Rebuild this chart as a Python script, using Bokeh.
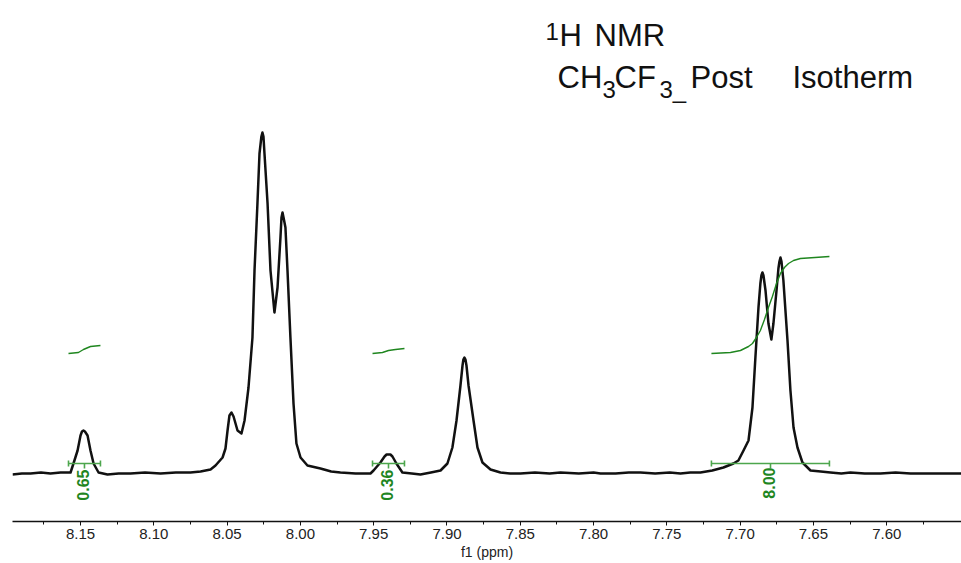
from bokeh.plotting import figure
from bokeh.models import Range1d, FixedTicker, NumeralTickFormatter
from bokeh.embed import file_html
from bokeh.resources import INLINE
from bokeh.core.properties import value

# ---------------- data ----------------
spectrum_ppm = [
    8.1964, 8.1900, 8.1841, 8.1770, 8.1705, 8.1636, 8.1568, 8.1548, 8.1520, 8.1500,
    8.1490, 8.1480, 8.1470, 8.1452, 8.1432, 8.1411, 8.1377, 8.1316, 8.1240, 8.1159,
    8.1060, 8.0954, 8.0850, 8.0750, 8.0681, 8.0613, 8.0579, 8.0531, 8.0511, 8.0497,
    8.0484, 8.0470, 8.0456, 8.0429, 8.0402, 8.0381, 8.0354, 8.0327, 8.0313, 8.0293,
    8.0279, 8.0266, 8.0259, 8.0252, 8.0245, 8.0224, 8.0204, 8.0177, 8.0156, 8.0136,
    8.0129, 8.0122, 8.0115, 8.0102, 8.0088, 8.0068, 8.0047, 8.0027, 7.9999, 7.9952,
    7.9863, 7.9790, 7.9727, 7.9624, 7.9522, 7.9501, 7.9454, 7.9426, 7.9412, 7.9399,
    7.9386, 7.9372, 7.9345, 7.9304, 7.9240, 7.9181, 7.9110, 7.9044, 7.8997, 7.8963,
    7.8935, 7.8908, 7.8894, 7.8888, 7.8881, 7.8874, 7.8867, 7.8853, 7.8819, 7.8792,
    7.8758, 7.8703, 7.8635, 7.8570, 7.8499, 7.8400, 7.8300, 7.8226, 7.8100, 7.8000,
    7.7953, 7.7850, 7.7760, 7.7680, 7.7580, 7.7480, 7.7407, 7.7340, 7.7271, 7.7190,
    7.7114, 7.7046, 7.7012, 7.6977, 7.6943, 7.6916, 7.6896, 7.6875, 7.6862, 7.6855,
    7.6848, 7.6841, 7.6827, 7.6807, 7.6787, 7.6773, 7.6752, 7.6739, 7.6732, 7.6725,
    7.6718, 7.6705, 7.6677, 7.6657, 7.6636, 7.6609, 7.6575, 7.6520, 7.6450, 7.6384,
    7.6310, 7.6248, 7.6150, 7.6043, 7.5940, 7.5838, 7.5740, 7.5634, 7.5490,
]
spectrum_intensity = [
    -1, 0, 0, 1, 0, 1, 1, 10, 23, 38,
    42, 43, 42, 38, 23, 10, 1, -1, 0, 0,
    1, 0, 1, 1, 2, 4, 8, 16, 25, 43,
    58, 61, 57, 43, 40, 53, 86, 136, 203, 270,
    320, 337, 341, 337, 320, 270, 203, 161, 186, 236,
    256, 261, 256, 246, 203, 136, 70, 30, 16, 8,
    5, 2, 1, 0, 0, 3, 11, 17, 19, 19,
    19, 17, 10, 1, 0, -1, 1, 3, 10, 26,
    53, 88, 108, 114, 116, 114, 108, 88, 53, 26,
    11, 4, 1, 0, 0, 1, 0, 1, 0, 1,
    0, 0, 1, 1, 0, 1, 0, 1, 1, 3,
    6, 10, 13, 23, 33, 66, 116, 166, 190, 198,
    201, 198, 183, 150, 134, 150, 183, 205, 212, 216,
    212, 193, 133, 83, 46, 26, 11, 3, 2, 1,
    0, 1, 0, 0, 1, 0, 0, 0, 0,
]

# integral traces (green S-curves)
integral1_ppm = [8.1582, 8.1514, 8.1480, 8.1432, 8.1364]
integral1_val = [120, 121, 124, 127, 128]
integral2_ppm = [7.9508, 7.9440, 7.9399, 7.9351, 7.9290]
integral2_val = [120, 121, 123, 124, 125]
integral3_ppm = [7.7196, 7.7066, 7.6998, 7.6943, 7.6916, 7.6889, 7.6862, 7.6834,
                 7.6807, 7.6780, 7.6752, 7.6725, 7.6698, 7.6670, 7.6636, 7.6589, 7.6391]
integral3_val = [120, 121, 123, 127, 130, 136, 143, 154,
                 166, 177, 190, 200, 206, 210, 213, 215, 217]

# integration regions and their values
region_start = [8.1582, 7.9508, 7.7196]
region_end = [8.1364, 7.9290, 7.6391]
region_center = [8.1473, 7.9399, 7.6793]
region_label_ppm = [8.1486, 7.9406, 7.6800]
region_values = ["0.65", "0.36", "8.00"]

tick_values = [8.15, 8.10, 8.05, 8.00, 7.95, 7.90, 7.85, 7.80, 7.75, 7.70, 7.65, 7.60]
minor_tick_values = [8.175, 8.125, 8.075, 8.025, 7.975, 7.925, 7.875, 7.825,
                     7.775, 7.725, 7.675, 7.625, 7.575]

# ---------------- figure ----------------
W, H = 961, 563
LEFT = 12
BOTTOM = 42
X0, X1 = 8.1964, 7.5490
Y_TOP = 473
Y_BOT = Y_TOP - (H - BOTTOM)

GREEN = "#1f861f"
BAR_GREEN = "#4da64d"
FONT = "Liberation Sans"

p = figure(width=W, height=H, x_range=Range1d(X0, X1), y_range=Range1d(Y_BOT, Y_TOP),
           output_backend="svg", toolbar_location=None,
           min_border_left=LEFT, min_border_right=0, min_border_top=0,
           min_border_bottom=BOTTOM)
p.yaxis.visible = False
p.grid.visible = False
p.outline_line_color = None
p.background_fill_color = "white"
p.border_fill_color = "white"

ax = p.xaxis[0]
ax.ticker = FixedTicker(ticks=tick_values, minor_ticks=minor_tick_values)
ax.formatter = NumeralTickFormatter(format="0.00")
ax.axis_label = "f1 (ppm)"
ax.axis_label_text_font = FONT
ax.axis_label_text_font_style = "normal"
ax.axis_label_text_font_size = "14px"
ax.axis_label_text_color = "#222222"
ax.axis_label_standoff = 2
ax.major_label_text_font = FONT
ax.major_label_text_font_size = "15px"
ax.major_label_text_color = "#222222"
ax.major_label_standoff = 3
ax.axis_line_width = 1.5
ax.axis_line_color = "#111111"
ax.major_tick_in = 0
ax.major_tick_out = 4
ax.minor_tick_in = 0
ax.minor_tick_out = 3
ax.major_tick_line_color = "#111111"
ax.minor_tick_line_color = "#111111"


def px(x_page, y_page):
    """Page pixel -> data coordinates (for text placement only)."""
    return X0 + (x_page - LEFT) * (X1 - X0) / (W - LEFT), Y_TOP - y_page


# spectrum
p.line(spectrum_ppm, spectrum_intensity, line_color="#111111", line_width=2.5,
       line_join="round")

# integral traces
for xs, ys in ((integral1_ppm, integral1_val), (integral2_ppm, integral2_val),
               (integral3_ppm, integral3_val)):
    p.line(xs, ys, line_color=GREEN, line_width=1.4, line_join="round")

# integration bars
BAR = 10
p.segment(x0=region_start, y0=[BAR] * 3, x1=region_end, y1=[BAR] * 3,
          line_color=BAR_GREEN, line_width=1.6)
p.segment(x0=region_start, y0=[BAR - 3] * 3, x1=region_start, y1=[BAR + 3] * 3,
          line_color=BAR_GREEN, line_width=1.6)
p.segment(x0=region_end, y0=[BAR - 3] * 3, x1=region_end, y1=[BAR + 3] * 3,
          line_color=BAR_GREEN, line_width=1.6)
p.segment(x0=region_center, y0=[BAR] * 3, x1=region_center, y1=[BAR - 5] * 3,
          line_color=BAR_GREEN, line_width=1.6)

# integral values (rotated)
p.text(x=region_label_ppm, y=[4, 4, 6], text=region_values, angle=90, angle_units="deg",
       text_align="right", text_baseline="middle", text_color=GREEN,
       text_font=value(FONT), text_font_size="16px", text_font_style="bold")

# title pieces
big = [("H", 559, 35), ("NMR", 594, 35), ("CH", 557, 77), ("CF", 614, 77),
       ("Post", 690, 77), ("Isotherm", 792, 77)]
small = [("1", 545, 31), ("3", 602, 89), ("3_", 659, 89)]
for items, size in ((big, "31px"), (small, "24px")):
    xs, ys, ts = [], [], []
    for t, xp, yp in items:
        dx, dy = px(xp, yp)
        xs.append(dx); ys.append(dy); ts.append(t)
    p.text(x=xs, y=ys, text=ts, text_align="left", text_baseline="alphabetic",
           text_color="#111111", text_font=value(FONT), text_font_size=size)

open("out.html", "w").write(file_html(p, INLINE))
